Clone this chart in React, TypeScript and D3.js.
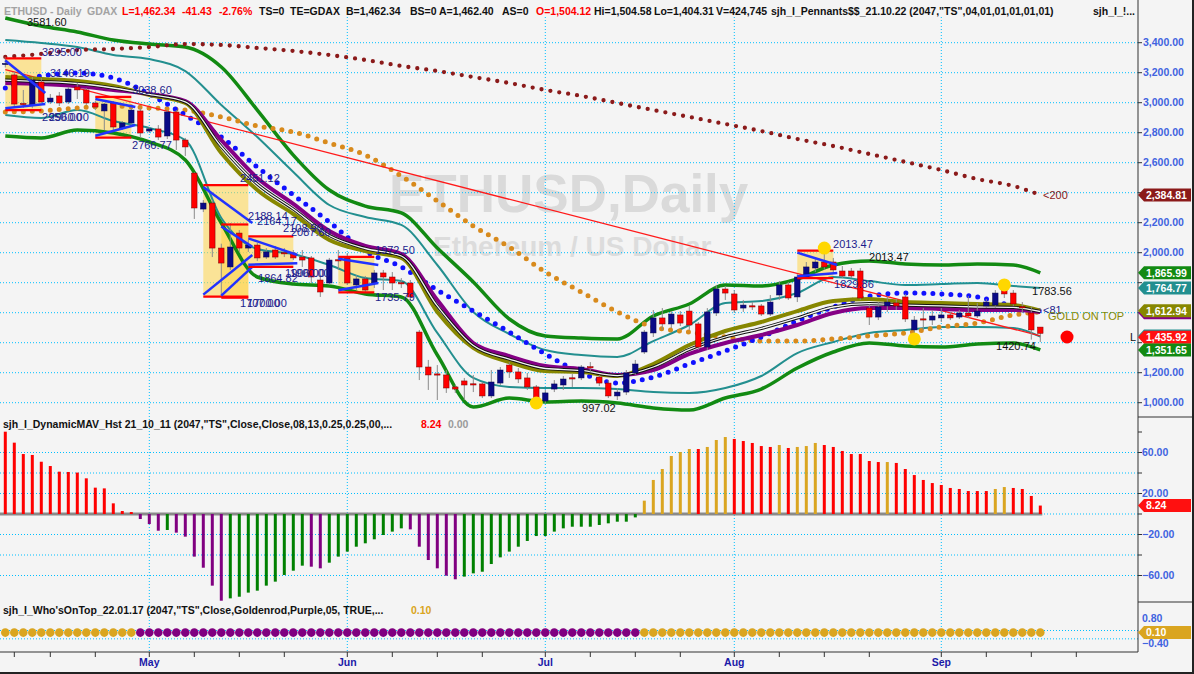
import React from "react";
import * as d3 from "d3";

// ---------- DATA ----------
const firstBarDate = new Date(2022, 3, 8); // weekday bars from Apr 8 2022
const opens = [
  3255, 3185, 2995, 2985, 3138, 3005, 3045, 3005, 3105, 3085,
  2998, 2945, 2998, 2831, 2865, 2945, 2811, 2825, 2778, 2938,
  2751, 2531, 2291, 2331, 2031, 1905, 2131, 2031, 2051, 1971,
  2018, 2000, 1998, 1971, 1965, 1818, 1798, 1953, 1965, 1785,
  1825, 1798, 1865, 1838, 1800, 1798, 1471, 1238, 1192, 1185,
  1105, 1145, 1126, 1125, 1045, 1131, 1251, 1205, 1165, 1105,
  1011, 1091, 1118, 1166, 1165, 1240, 1171, 1131, 1045, 1071,
  1198, 1338, 1465, 1565, 1525, 1585, 1611, 1525, 1371, 1598,
  1758, 1725, 1631, 1646, 1645, 1591, 1718, 1785, 1705, 1838,
  1898, 1938, 1938, 1878, 1878, 1878, 1631, 1571, 1645, 1665,
  1705, 1485, 1559, 1551, 1565, 1585, 1571, 1598, 1578, 1645,
  1651, 1751, 1731, 1641, 1598, 1504.12,
];
const highs = [
  3305, 3205, 3085, 3171, 3165, 3058, 3071, 3105, 3131, 3098,
  3011, 2998, 3011, 2878, 2965, 2965, 2838, 2851, 2951, 2951,
  2765, 2538, 2351, 2351, 2060, 2198, 2151, 2085, 2065, 2031,
  2045, 2031, 2018, 2018, 1978, 1838, 1965, 2018, 1998, 1851,
  1845, 1885, 1885, 1871, 1831, 1818, 1485, 1285, 1251, 1218,
  1118, 1165, 1185, 1138, 1218, 1238, 1271, 1231, 1198, 1118,
  1085, 1151, 1178, 1191, 1251, 1271, 1185, 1151, 1098, 1218,
  1285, 1485, 1618, 1631, 1611, 1611, 1645, 1538, 1631, 1785,
  1778, 1751, 1685, 1671, 1658, 1718, 1811, 1805, 1858, 1938,
  1965, 2013.47, 1965, 1911, 1898, 1898, 1658, 1671, 1711, 1691,
  1725, 1578, 1631, 1618, 1631, 1605, 1618, 1711, 1665, 1691,
  1751, 1783.56, 1751, 1671, 1638, 1504.58,
];
const lows = [
  3235, 2971, 2965, 2965, 2998, 2991, 2978, 2991, 3025, 2985,
  2951, 2818, 2805, 2818, 2851, 2765, 2798, 2751, 2758, 2685,
  2645, 2225, 2271, 1971, 1700, 1885, 2005, 2005, 1945, 1958,
  1958, 1971, 1951, 1905, 1798, 1705, 1785, 1885, 1785, 1751,
  1731, 1765, 1751, 1751, 1765, 1685, 1151, 1085, 1018, 1065,
  1065, 1018, 1071, 1031, 1031, 1118, 1165, 1131, 1085, 1005,
  997.02, 1071, 1085, 1105, 1151, 1205, 1111, 1031, 1018, 1051,
  1185, 1325, 1438, 1485, 1498, 1511, 1485, 1351, 1351, 1578,
  1685, 1598, 1605, 1618, 1578, 1578, 1685, 1685, 1671, 1825,
  1871, 1885, 1865, 1831, 1831, 1685, 1518, 1551, 1605, 1618,
  1538, 1465, 1485, 1518, 1538, 1551, 1558, 1565, 1565, 1631,
  1631, 1698, 1645, 1598, 1420.74, 1404.31,
];
const closes = [
  3262, 2991, 2990, 3151, 3005, 3031, 2998, 3091, 3085, 2998,
  2971, 2991, 2838, 2865, 2951, 2798, 2825, 2771, 2938, 2751,
  2705, 2298, 2331, 2031, 1931, 2038, 2031, 2051, 1965, 2005,
  1971, 1998, 1965, 1951, 1838, 1738, 1951, 1951, 1798, 1825,
  1751, 1865, 1838, 1798, 1798, 1705, 1238, 1185, 1191, 1098,
  1091, 1118, 1125, 1045, 1138, 1218, 1205, 1158, 1105, 1031,
  1065, 1125, 1158, 1165, 1238, 1238, 1131, 1045, 1071, 1198,
  1258, 1471, 1565, 1525, 1591, 1531, 1518, 1371, 1605, 1758,
  1731, 1618, 1651, 1645, 1591, 1671, 1785, 1698, 1838, 1905,
  1938, 1905, 1885, 1845, 1845, 1698, 1571, 1638, 1671, 1645,
  1558, 1551, 1558, 1578, 1585, 1565, 1598, 1578, 1611, 1671,
  1731, 1725, 1658, 1632, 1485, 1462.34,
];

// indicator lines, sampled at these bars
const knotBars = [0, 4, 8, 12, 16, 20, 24, 28, 32, 36, 40, 44, 48, 52, 56, 60, 64, 68, 72, 76, 80, 84, 88, 92, 96, 100, 104, 108, 112, 115];
const ma200 = [3305, 3325, 3351, 3358, 3371, 3391, 3385, 3365, 3345, 3318, 3285, 3245, 3211, 3171, 3131, 3085, 3045, 2998, 2951, 2905, 2858, 2811, 2758, 2711, 2658, 2605, 2551, 2491, 2445, 2384.81];
const blueDotted = [3098, 3178, 3198, 3165, 3058, 2918, 2771, 2571, 2385, 2205, 2011, 1905, 1751, 1611, 1471, 1325, 1198, 1131, 1171, 1258, 1345, 1438, 1545, 1638, 1711, 1731, 1725, 1705, 1645, 1611];
const orangeDotted = [2938, 2945, 2965, 2978, 2965, 2951, 2905, 2845, 2805, 2731, 2651, 2511, 2345, 2178, 2038, 1871, 1738, 1605, 1505, 1471, 1438, 1411, 1411, 1425, 1445, 1465, 1505, 1531, 1585, 1605];
const greenUpper = [3565, 3511, 3471, 3418, 3391, 3371, 3238, 2951, 2651, 2418, 2311, 2265, 2031, 1805, 1558, 1445, 1431, 1425, 1578, 1658, 1785, 1778, 1825, 1918, 1945, 1925, 1918, 1925, 1918, 1865.99];
const greenLower = [2778, 2765, 2818, 2798, 2738, 2618, 2198, 1838, 1791, 1778, 1725, 1705, 1318, 971, 1031, 1005, 1011, 998, 965, 951, 1031, 1091, 1231, 1338, 1398, 1378, 1371, 1391, 1398, 1351.65];
const tealUpper = [3418, 3398, 3371, 3318, 3291, 3211, 2985, 2771, 2538, 2318, 2238, 2185, 1918, 1605, 1458, 1351, 1318, 1305, 1411, 1518, 1665, 1678, 1731, 1838, 1811, 1785, 1791, 1798, 1778, 1764.77];
const tealLower = [2918, 2898, 2951, 2878, 2831, 2751, 2231, 2025, 1991, 1918, 1831, 1811, 1465, 1165, 1105, 1098, 1098, 1091, 1071, 1065, 1098, 1178, 1331, 1405, 1465, 1485, 1505, 1505, 1498, 1440];
const oliveMA = [3171, 3158, 3145, 3111, 3051, 2998, 2665, 2418, 2258, 2085, 2011, 1965, 1605, 1365, 1271, 1211, 1205, 1178, 1258, 1385, 1478, 1538, 1611, 1678, 1691, 1671, 1665, 1658, 1651, 1612.94];
const purpleMA = [3131, 3125, 3111, 3085, 3058, 3011, 2751, 2498, 2325, 2145, 2045, 1991, 1685, 1398, 1311, 1245, 1225, 1185, 1218, 1325, 1398, 1451, 1518, 1598, 1631, 1631, 1625, 1618, 1618, 1605];
const blackMA = [3151, 3141, 3128, 3098, 3055, 3005, 2708, 2458, 2291, 2115, 2028, 1978, 1645, 1381, 1291, 1228, 1215, 1181, 1238, 1355, 1438, 1495, 1565, 1638, 1661, 1651, 1645, 1638, 1635, 1608];

// trend line (bar, price)
const trendBars = [0, 115];
const trendPrices = [3221, 1445];

// pennants
const pennantFrom = [0, 10, 22, 24, 27, 37, 88];
const pennantTo = [4, 14, 27, 27, 32, 41, 92];
const pennantHigh = [3295, 3038.6, 2451.12, 2188.14, 2108.9, 1972.5, 2013.47];
const pennantLow = [2950, 2766.77, 1707, 1700, 1906, 1735.79, 1829.86];
const pennantUpperEnd = [3065, 2971, 2198, 2040, 1985, 1918, 1918];
const pennantLowerEnd = [2991, 2851, 1985, 1905, 1930, 1798, 1865];

// price labels [text, bar, price]
const navyLabels = [
  ["3295.00", 4.08, 3338], ["3146.19", 4.97, 3198], ["2950.00", 4.08, 2905], ["2960.00", 4.86, 2905],
  ["3038.60", 14.08, 3085], ["2766.77", 14.08, 2718], ["2451.12", 26.08, 2498], ["2188.14", 26.97, 2245],
  ["2164.17", 27.97, 2211], ["2108.90", 30.86, 2165], ["2087.60", 31.74, 2138], ["1972.50", 41.08, 2018],
  ["1906.00", 31.08, 1865], ["1900.00", 31.63, 1865], ["1864.82", 28.08, 1831], ["1707.00", 26.08, 1665],
  ["1700.00", 26.86, 1665], ["1735.79", 41.08, 1705], ["2013.47", 91.97, 2058], ["1829.86", 92.08, 1791],
];
const blackLabels = [
  ["3581.60", 2.4, 3538], ["2013.47", 95.97, 1971], ["1783.56", 114.08, 1745],
  ["1420.74", 110.08, 1378], ["997.02", 64.08, 965],
];
const yellowDotBars = [91, 111, 101, 59];
const yellowDotPrices = [2031, 1785, 1425, 998];
const redDotBar = 117.97;
const redDotPrice = 1438;

// axis
const priceGrid = [1000, 1200, 1400, 1600, 1800, 2000, 2200, 2400, 2600, 2800, 3000, 3200, 3400];
const priceTickLabels = [3400, 3200, 3000, 2800, 2600, 2200, 2000, 1200, 1000];
const tagValues = [2384.81, 1865.99, 1764.77, 1600.5, 1612.94, 1445, 1435.92, 1351.65];
const tagKinds = ["ma200", "green", "teal", "purple", "olive", "teal", "close", "green"];
const tagShowText = [true, true, true, false, true, false, true, true];
const monthNames = ["May", "Jun", "Jul", "Aug", "Sep"];

// histogram
const histValues = [
  80.3, 69.6, 58.5, 57.6, 51, 46.8, 41.3, 41, 40.4, 34.8, 25.7, 25, 10.4, 2.9, 1.9,
  -4.9, -9.8, -16.3, -15.6, -18.2, -22.1, -41.6, -52.4, -69.9, -84.6, -82.3, -80.7, -76.7, -74.8, -69.9,
  -66, -59.5, -55.3, -50.4, -51.4, -53, -47.5, -41.6, -36.7, -31.9, -28.6, -24.7, -20.5, -17.2, -14,
  -15, -31.9, -44.9, -53, -60.2, -63.7, -61.1, -57.9, -56.3, -48.8, -42.3, -36.7, -31.9, -26.3, -21.5,
  -21.5, -17.2, -14, -12.4, -12.4, -12.4, -10.7, -9.1, -7.5, -7.5, -3.3,
  13, 33.2, 43.9, 56.6, 60.5, 63.4, 63.4, 65.4, 72.2, 75.1, 73.2, 71.2, 69.3, 66.3, 65.4,
  67.3, 64.4, 65.4, 66.3, 69.3, 67.3, 65.4, 61.5, 58.5, 58.5, 51.7, 50.7, 50.7, 49.8, 43.9,
  38, 33.2, 30.2, 28.3, 25.4, 24.4, 22.4, 22.4, 22.4, 24.4, 26.3, 25.4, 24.4, 17.6, 8.24,
];
const histStates = (
  "RRRRRRRRRRRRRRR" +
  "PPPNPPPPPP" + "NNNNNNNNN" + "PP" + "NNNNNNNNN" + "PPPPPP" + "NNNNNNNNNNNNNNNNNNNN" +
  "GGGGGG" + "R" + "GGG" + "RRRRR" + "G" + "R" + "GGG" + "RRRRRRR" + "G" + "RRRRRRRRRRR" + "GG" + "RRRR"
).split("");
const histGrid = [60, 40, 20, 0, -20, -40, -60];
const histTicks = [80, 60, 40, 20, 0, -20, -40, -60];
const histTickLabels = [60, 20, -20, -60];
const whoGrid = [0.2, -0.2];
const whoTickLabels = [0.8, -0.4];

// ---------- HELPERS ----------
function weekdays(start, n) {
  const out = [];
  const d = new Date(start);
  while (out.length < n) {
    const wd = d.getDay();
    if (wd !== 0 && wd !== 6) out.push(new Date(d));
    d.setDate(d.getDate() + 1);
  }
  return out;
}

const FONT = "'Liberation Sans', Arial, Helvetica, sans-serif";
const GRID = "#00BFFF";
const COLORS = {
  green: "#128A12",
  teal: "#238F8F",
  olive: "#878700",
  purple: "#850085",
  ma200: "#8B1A1A",
  close: "#FF1010",
  orange: "#D88A1C",
  blue: "#1010FF",
  navy: "#1C1C8C",
  axis: "#3F63E0",
};
const HIST_COLORS = { R: "#FF0000", G: "#DAA520", P: "#800080", N: "#008000" };

export default function App() {
  const W = 1194, H = 674;
  const plotRight = 1138;
  const nBars = closes.length;
  const dates = weekdays(firstBarDate, 126);

  const x = d3.scaleLinear().domain([0, 115]).range([5.3, 1040.3]);
  const y = d3.scaleLinear().domain([1000, 3400]).range([402.7, 42.7]);
  const yH = d3.scaleLinear().domain([-60, 60]).range([575.5, 452.5]);
  const yW = d3.scaleLinear().domain([-0.4, 0.8]).range([643, 618]);

  const knotLine = d3
    .line()
    .x((d, k) => x(knotBars[k]))
    .y((d) => y(d))
    .curve(d3.curveMonotoneX);

  const monthStarts = [];
  const tickBars = [1];
  for (let i = 1; i < dates.length; i++) {
    const a = dates[i - 1], b = dates[i];
    if (a.getMonth() !== b.getMonth()) {
      monthStarts.push(i);
      tickBars.push(i);
    } else {
      for (const t of [8, 15, 22]) {
        if (b.getDate() >= t && a.getDate() < t) tickBars.push(i);
      }
    }
  }

  const fmt2 = d3.format(",.2f");

  const tagShape = (cy) => {
    const h = 6.5;
    return `M${plotRight},${cy} L${plotRight + 6},${cy - h} L1191,${cy - h} L1191,${cy + h} L${plotRight + 6},${cy + h} Z`;
  };

  const bodyW = 5.5;

  return (
    <div style={{ position: "fixed", left: 0, top: 0, width: W, height: H }}>
      <svg width={W} height={H} style={{ display: "block", fontFamily: FONT }}>
        <rect x={0} y={0} width={W} height={H} fill="#F4F4F4" />

        {/* watermark */}
        <text x={389} y={212} fontSize={53} fontWeight="bold" fill="#DADADA">ETHUSD,Daily</text>
        <text x={433} y={256} fontSize={28} fontWeight="bold" fill="#DCDCDC">Ethereum / US Dollar</text>

        {/* grid lines */}
        {priceGrid.map((v) => (
          <line key={"pg" + v} x1={0} x2={plotRight} y1={y(v)} y2={y(v)} stroke={GRID} strokeWidth={1} strokeDasharray="1 2" />
        ))}
        {histGrid.map((v) => (
          <line key={"hg" + v} x1={0} x2={plotRight} y1={yH(v)} y2={yH(v)} stroke={GRID} strokeWidth={1} strokeDasharray="1 2" />
        ))}
        {whoGrid.map((v) => (
          <line key={"wg" + v} x1={0} x2={plotRight} y1={yW(v)} y2={yW(v)} stroke={GRID} strokeWidth={1} strokeDasharray="1 2" />
        ))}
        {monthStarts.filter((i) => x(i) < plotRight).map((i) => (
          <line key={"vg" + i} x1={x(i)} x2={x(i)} y1={17} y2={652} stroke={GRID} strokeWidth={1} strokeDasharray="1 2" />
        ))}

        {/* pennant boxes */}
        {pennantFrom.map((f, k) => (
          <rect
            key={"pb" + k}
            x={x(f)}
            y={y(pennantHigh[k])}
            width={x(pennantTo[k]) - x(f)}
            height={y(pennantLow[k]) - y(pennantHigh[k])}
            fill="#FFD54A"
            fillOpacity={0.55}
          />
        ))}

        {/* bands and moving averages */}
        <path d={knotLine(greenUpper)} fill="none" stroke={COLORS.green} strokeWidth={3.5} />
        <path d={knotLine(greenLower)} fill="none" stroke={COLORS.green} strokeWidth={3.5} />
        <path d={knotLine(tealUpper)} fill="none" stroke={COLORS.teal} strokeWidth={2} />
        <path d={knotLine(tealLower)} fill="none" stroke={COLORS.teal} strokeWidth={2} />
        <path d={knotLine(ma200)} fill="none" stroke={COLORS.ma200} strokeWidth={4.3} strokeDasharray="0 9" strokeLinecap="round" />
        <path d={knotLine(orangeDotted)} fill="none" stroke={COLORS.orange} strokeWidth={5} strokeDasharray="0 9" strokeLinecap="round" />
        <path d={knotLine(blueDotted)} fill="none" stroke={COLORS.blue} strokeWidth={5} strokeDasharray="0 9" strokeLinecap="round" />
        <line x1={x(trendBars[0])} y1={y(trendPrices[0])} x2={x(trendBars[1])} y2={y(trendPrices[1])} stroke="#FF1A1A" strokeWidth={1.3} />
        <path d={knotLine(oliveMA)} fill="none" stroke={COLORS.olive} strokeWidth={4} />
        <path d={knotLine(purpleMA)} fill="none" stroke={COLORS.purple} strokeWidth={4} />
        <path d={knotLine(blackMA)} fill="none" stroke="#111" strokeWidth={3.2} />
        <path d={knotLine(blackMA)} fill="none" stroke="#F4F4F4" strokeWidth={1.3} />

        {/* candles */}
        {closes.map((c, i) => {
          const o = opens[i];
          const up = c >= o;
          const top = y(Math.max(o, c));
          const bot = y(Math.min(o, c));
          const cx = x(i);
          return (
            <g key={"c" + i}>
              <line x1={cx} x2={cx} y1={y(highs[i])} y2={y(lows[i])} stroke="#8A8A8A" strokeWidth={1} />
              <rect
                x={cx - bodyW / 2}
                y={top}
                width={bodyW}
                height={Math.max(1.2, bot - top)}
                fill={up ? "#0A0A86" : "#FF0000"}
                stroke={up ? "#05054A" : "#7A0000"}
                strokeWidth={0.5}
              />
            </g>
          );
        })}

        {/* pennant lines */}
        {pennantFrom.map((f, k) => (
          <g key={"pl" + k}>
            <line x1={x(f)} x2={x(pennantTo[k])} y1={y(pennantHigh[k])} y2={y(pennantHigh[k])} stroke="#FF0000" strokeWidth={2.2} />
            <line x1={x(f)} x2={x(pennantTo[k])} y1={y(pennantLow[k])} y2={y(pennantLow[k])} stroke="#FF0000" strokeWidth={2.2} />
            <line x1={x(f)} x2={x(pennantTo[k]) + 4} y1={y(pennantHigh[k]) + 2} y2={y(pennantUpperEnd[k])} stroke="#2233FF" strokeWidth={2.5} />
            <line x1={x(f)} x2={x(pennantTo[k]) + 4} y1={y(pennantLow[k]) - 2} y2={y(pennantLowerEnd[k])} stroke="#2233FF" strokeWidth={2.5} />
          </g>
        ))}

        {/* yellow / red markers */}
        {yellowDotBars.map((b, k) => (
          <circle key={"yd" + k} cx={x(b)} cy={y(yellowDotPrices[k])} r={6.5} fill="#FFD700" />
        ))}
        <circle cx={x(redDotBar)} cy={y(redDotPrice)} r={6.5} fill="#FF0000" />

        {/* labels */}
        {navyLabels.map((l, k) => (
          <text key={"nl" + k} x={x(l[1])} y={y(l[2])} dy="0.35em" fontSize={11} fill={COLORS.navy}>{l[0]}</text>
        ))}
        {blackLabels.map((l, k) => (
          <text key={"bl" + k} x={x(l[1])} y={y(l[2])} dy="0.35em" fontSize={11} fill="#111">{l[0]}</text>
        ))}
        <text x={x(115.3)} y={y(2385)} dy="0.35em" fontSize={11} fill={COLORS.ma200}>{"<200"}</text>
        <text x={x(115.3)} y={y(1618)} dy="0.35em" fontSize={11} fill={COLORS.navy}>{"<81"}</text>
        <text x={x(115.86)} y={y(1578)} dy="0.35em" fontSize={11} fill="#8B8B00">GOLD ON TOP</text>
        <text x={1130} y={y(1438)} dy="0.35em" fontSize={11} fill="#111">L</text>

        {/* header */}
        <g fontSize={10.5} fontWeight="bold">
          <text x={4} y={15} fill="#A3A3A3">ETHUSD - Daily</text>
          <text x={87} y={15} fill="#A3A3A3">GDAX</text>
          <text x={122} y={15} fill="#FF0000">L=1,462.34</text>
          <text x={182} y={15} fill="#FF0000">-41.43</text>
          <text x={219} y={15} fill="#FF0000">-2.76%</text>
          <text x={259} y={15} fill="#111">TS=0</text>
          <text x={290} y={15} fill="#111">TE=GDAX</text>
          <text x={346} y={15} fill="#111">B=1,462.34</text>
          <text x={410} y={15} fill="#111">BS=0</text>
          <text x={439} y={15} fill="#111">A=1,462.40</text>
          <text x={502} y={15} fill="#111">AS=0</text>
          <text x={536} y={15} fill="#FF0000">O=1,504.12</text>
          <text x={594} y={15} fill="#111">Hi=1,504.58</text>
          <text x={654} y={15} fill="#111">Lo=1,404.31</text>
          <text x={716} y={15} fill="#111">V=424,745</text>
          <text x={771} y={15} fill="#111">{'sjh_I_Pennants$$_21.10.22 (2047,"TS",04,01,01,01,01,01)'}</text>
          <text x={1093} y={15} fill="#111">{"sjh_I_!..."}</text>
        </g>

        {/* histogram panel */}
        <line x1={0} x2={x(nBars - 1) + 2} y1={yH(0)} y2={yH(0)} stroke="#8A8A8A" strokeWidth={3} />
        {histValues.map((v, i) => (
          <rect
            key={"h" + i}
            x={x(i) - 1.5}
            y={Math.min(yH(v), yH(0))}
            width={3}
            height={Math.abs(yH(v) - yH(0))}
            fill={HIST_COLORS[histStates[i]]}
          />
        ))}
        <g fontSize={10.5} fontWeight="bold">
          <text x={3} y={428} fill="#111">{'sjh_I_DynamicMAV_Hst 21_10_11 (2047,"TS",Close,Close,08,13,0.25,0.25,00,...'}</text>
          <text x={421} y={428} fill="#FF0000">8.24</text>
          <text x={448} y={428} fill="#9A9A9A">0.00</text>
        </g>

        {/* who's on top panel */}
        {histValues.map((v, i) => (
          <circle key={"w" + i} cx={x(i)} cy={yW(0.1)} r={4.3} fill={v >= 0 ? "#DAA520" : "#800080"} />
        ))}
        <g fontSize={10.5} fontWeight="bold">
          <text x={3} y={614} fill="#111">{'sjh_I_Who\'sOnTop_22.01.17 (2047,"TS",Close,Goldenrod,Purple,05, TRUE,...'}</text>
          <text x={411} y={614} fill="#DAA520">0.10</text>
        </g>

        {/* x axis */}
        <line x1={0} x2={plotRight} y1={652} y2={652} stroke="#333" strokeWidth={1} />
        {tickBars.filter((i) => x(i) < plotRight).map((i, k) => (
          <line key={"xt" + k} x1={x(i)} x2={x(i)} y1={652} y2={657} stroke="#333" strokeWidth={1} />
        ))}
        {monthStarts.slice(0, monthNames.length).map((i, k) => (
          <text key={"ml" + k} x={x(i)} y={666} textAnchor="middle" fontSize={10.5} fontWeight="bold" fill="#1A1AA8">
            {monthNames[k]}
          </text>
        ))}

        {/* right axis */}
        <line x1={plotRight} x2={plotRight} y1={0} y2={652} stroke="#333" strokeWidth={1} />
        <line x1={plotRight} x2={W} y1={417} y2={417} stroke="#333" strokeWidth={1} />
        <line x1={plotRight} x2={W} y1={602} y2={602} stroke="#333" strokeWidth={1} />
        {priceGrid.map((v) => (
          <line key={"pt" + v} x1={plotRight} x2={plotRight + 4} y1={y(v)} y2={y(v)} stroke="#333" />
        ))}
        {priceTickLabels.map((v) => (
          <text key={"ptl" + v} x={1143} y={y(v)} dy="0.35em" fontSize={10.5} fontWeight="bold" fill={COLORS.axis}>{fmt2(v)}</text>
        ))}
        {tagValues.map((v, k) => (
          <g key={"tag" + k}>
            <path d={tagShape(y(v))} fill={COLORS[tagKinds[k]]} />
            {tagShowText[k] && (
              <text x={1146} y={y(v)} dy="0.36em" fontSize={10.5} fontWeight="bold" fill="#FFFFFF">{fmt2(v)}</text>
            )}
          </g>
        ))}
        {histTicks.map((v) => (
          <line key={"ht" + v} x1={plotRight} x2={plotRight + 4} y1={yH(v)} y2={yH(v)} stroke="#333" />
        ))}
        {histTickLabels.map((v) => (
          <text key={"htl" + v} x={1142} y={yH(v)} dy="0.35em" fontSize={10.5} fontWeight="bold" fill={COLORS.axis}>{fmt2(v)}</text>
        ))}
        <path d={tagShape(yH(8.24))} fill="#FF1010" />
        <text x={1146} y={yH(8.24)} dy="0.36em" fontSize={10.5} fontWeight="bold" fill="#FFFFFF">8.24</text>
        {whoTickLabels.map((v) => (
          <text key={"wtl" + v} x={1142} y={yW(v)} dy="0.35em" fontSize={10.5} fontWeight="bold" fill={COLORS.axis}>{fmt2(v)}</text>
        ))}
        <path d={tagShape(yW(0.1))} fill="#DAA520" />
        <text x={1146} y={yW(0.1)} dy="0.36em" fontSize={10.5} fontWeight="bold" fill="#FFFFFF">0.10</text>

        {/* frame */}
        <line x1={1193} x2={1193} y1={0} y2={H} stroke="#222" strokeWidth={2} />
        <line x1={0} x2={W} y1={673} y2={673} stroke="#222" strokeWidth={2} />
      </svg>
    </div>
  );
}
